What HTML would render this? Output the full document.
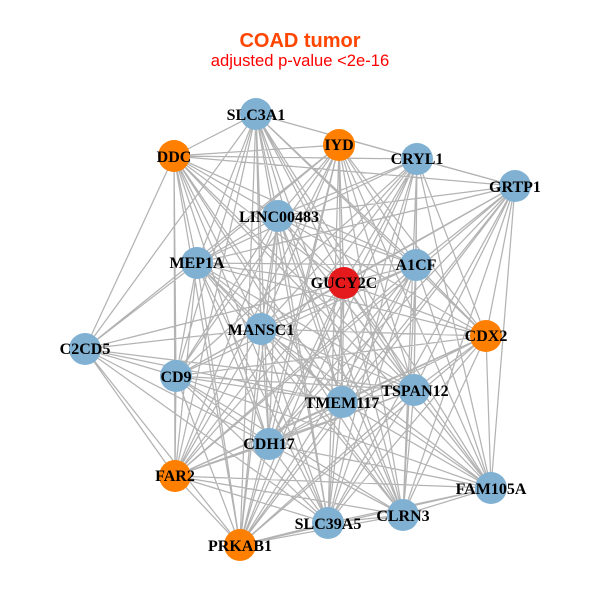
<!DOCTYPE html>
<html>
<head>
<meta charset="utf-8">
<style>
html,body{margin:0;padding:0;background:#fff;width:600px;height:600px;overflow:hidden}
svg{display:block}
.l{font-family:"Liberation Serif",serif;font-weight:bold;font-size:16px;fill:#000;text-anchor:middle}
</style>
</head>
<body>
<svg width="600" height="600" viewBox="0 0 600 600" xmlns="http://www.w3.org/2000/svg">
<rect width="600" height="600" fill="#fff"/>
<path fill="none" stroke="#b3b3b3" stroke-width="1.25" d="
M256 114L174 156M256 114L417 159M256 114L515 186M256 114L278 216M256 114L197 263M256 114L344 283M256 114L416 265M256 114L261 329M256 114L176 376M256 114L342 402M256 114L414 390M256 114L269 444M256 114L328 523M256 114L403 515M256 114L85 349M256 114L175 476M256 114L486 336M256 114L240 545M256 114L491 488
M174 156L339 145M174 156L417 159M174 156L515 186M174 156L278 216M174 156L197 263M174 156L416 265M174 156L344 283M174 156L261 329M174 156L176 376M174 156L414 390M174 156L342 402M174 156L269 444M174 156L175 476M174 156L403 515M174 156L328 523M174 156L85 349M174 156L240 545M174 156L486 336M174 156L491 488
M339 145L278 216M339 145L197 263M339 145L416 265M339 145L344 283M339 145L261 329M339 145L176 376M339 145L414 390M339 145L342 402M339 145L269 444M339 145L491 488M339 145L486 336M339 145L85 349M339 145L175 476M339 145L403 515M339 145L328 523M339 145L240 545
M417 159L515 186M417 159L278 216M417 159L197 263M417 159L416 265M417 159L344 283M417 159L261 329M417 159L176 376M417 159L486 336M417 159L414 390M417 159L342 402M417 159L269 444M417 159L328 523M417 159L403 515M417 159L175 476M417 159L491 488M417 159L240 545
M515 186L278 216M515 186L197 263M515 186L416 265M515 186L344 283M515 186L261 329M515 186L486 336M515 186L414 390M515 186L342 402M515 186L269 444M515 186L491 488M515 186L403 515M515 186L176 376M515 186L175 476M515 186L328 523M515 186L240 545
M278 216L197 263M278 216L416 265M278 216L344 283M278 216L261 329M278 216L486 336M278 216L176 376M278 216L414 390M278 216L342 402M278 216L269 444M278 216L175 476M278 216L491 488M278 216L403 515M278 216L328 523M278 216L240 545
M197 263L416 265M197 263L344 283M197 263L261 329M197 263L486 336M197 263L176 376M197 263L414 390M197 263L342 402M197 263L269 444M197 263L175 476M197 263L491 488M197 263L403 515M197 263L328 523M197 263L240 545M197 263L85 349
M416 265L344 283M416 265L261 329M416 265L486 336M416 265L414 390M416 265L342 402M416 265L269 444M416 265L491 488M416 265L403 515M416 265L328 523M416 265L240 545M416 265L176 376M416 265L175 476
M344 283L261 329M344 283L486 336M344 283L176 376M344 283L414 390M344 283L342 402M344 283L269 444M344 283L175 476M344 283L491 488M344 283L403 515M344 283L328 523M344 283L240 545M344 283L85 349
M85 349L261 329M85 349L176 376M85 349L342 402M85 349L414 390M85 349L269 444M85 349L328 523M85 349L175 476M85 349L240 545
M261 329L486 336M261 329L176 376M261 329L414 390M261 329L342 402M261 329L269 444M261 329L175 476M261 329L491 488M261 329L403 515M261 329L328 523M261 329L240 545
M486 336L176 376M486 336L414 390M486 336L342 402M486 336L269 444M486 336L175 476M486 336L491 488M486 336L403 515M486 336L328 523M486 336L240 545
M176 376L414 390M176 376L342 402M176 376L269 444M176 376L175 476M176 376L491 488M176 376L403 515M176 376L328 523M176 376L240 545
M414 390L342 402M414 390L269 444M414 390L175 476M414 390L491 488M414 390L403 515M414 390L328 523M414 390L240 545
M342 402L269 444M342 402L175 476M342 402L491 488M342 402L403 515M342 402L328 523M342 402L240 545
M269 444L175 476M269 444L491 488M269 444L403 515M269 444L328 523M269 444L240 545
M175 476L491 488M175 476L403 515M175 476L328 523M175 476L240 545
M491 488L403 515M491 488L328 523M491 488L240 545
M403 515L328 523M403 515L240 545
M328 523L240 545
"/>
<g fill="#80b1d3">
<circle cx="256" cy="114" r="16"/><circle cx="417" cy="159" r="16"/><circle cx="515" cy="186" r="16"/><circle cx="278" cy="216" r="16"/><circle cx="197" cy="263" r="16"/><circle cx="416" cy="265" r="16"/><circle cx="85" cy="349" r="16"/><circle cx="261" cy="329" r="16"/><circle cx="176" cy="376" r="16"/><circle cx="414" cy="390" r="16"/><circle cx="342" cy="402" r="16"/><circle cx="269" cy="444" r="16"/><circle cx="491" cy="488" r="16"/><circle cx="403" cy="515" r="16"/><circle cx="328" cy="523" r="16"/>
</g>
<g fill="#ff7f00">
<circle cx="174" cy="156" r="16"/><circle cx="339" cy="145" r="16"/><circle cx="486" cy="336" r="16"/><circle cx="175" cy="476" r="16"/><circle cx="240" cy="545" r="16"/>
</g>
<circle cx="344" cy="283" r="16" fill="#e41a1c"/>
<text x="300" y="47" text-anchor="middle" style="font-family:'Liberation Sans',sans-serif;font-weight:bold;font-size:20px" fill="#ff4500">COAD tumor</text>
<text x="300" y="66" text-anchor="middle" style="font-family:'Liberation Sans',sans-serif;font-size:16.6px" fill="#ff0000">adjusted p-value &lt;2e-16</text>
<text class="l" x="256" y="120">SLC3A1</text>
<text class="l" x="174" y="162">DDC</text>
<text class="l" x="339" y="150">IYD</text>
<text class="l" x="417" y="164">CRYL1</text>
<text class="l" x="515" y="192">GRTP1</text>
<text class="l" x="279" y="222">LINC00483</text>
<text class="l" x="197" y="268">MEP1A</text>
<text class="l" x="416" y="270">A1CF</text>
<text class="l" x="344" y="288">GUCY2C</text>
<text class="l" x="85" y="354">C2CD5</text>
<text class="l" x="261" y="335">MANSC1</text>
<text class="l" x="486" y="341">CDX2</text>
<text class="l" x="176" y="382">CD9</text>
<text class="l" x="415" y="396">TSPAN12</text>
<text class="l" x="342" y="408">TMEM117</text>
<text class="l" x="269" y="449">CDH17</text>
<text class="l" x="175" y="481">FAR2</text>
<text class="l" x="491" y="494">FAM105A</text>
<text class="l" x="403" y="521">CLRN3</text>
<text class="l" x="328" y="529">SLC39A5</text>
<text class="l" x="240" y="551">PRKAB1</text>
</svg>
</body>
</html>
